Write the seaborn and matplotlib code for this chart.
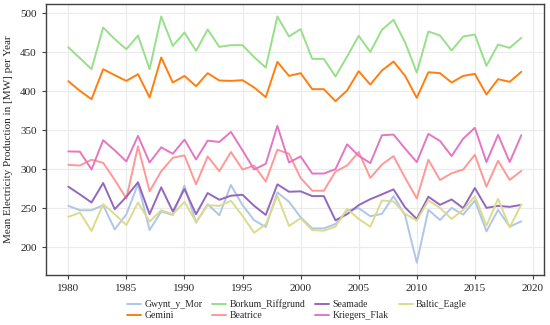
import numpy as np
import pandas as pd
import seaborn as sns
import matplotlib.pyplot as plt

# ---------------------------------------------------------------------------- #
#                                     Data                                     #
# ---------------------------------------------------------------------------- #
years = list(range(1980, 2020))

gwynt_y_mor = [253.0, 247.4, 247.4, 253.9, 222.8, 242.2, 281.0, 222.0, 245.7, 241.4,
               278.9, 231.5, 255.2, 241.0, 279.7, 253.9, 234.5, 225.9, 270.3, 258.2,
               238.4, 224.1, 224.1, 229.7, 247.0, 250.0, 239.7, 242.7, 265.5, 240.5,
               180.2, 247.8, 234.9, 250.4, 241.8, 259.9, 220.3, 247.8, 226.3, 233.2]
gemini = [412.8, 400.4, 389.7, 428.2, 420.5, 413.2, 421.8, 391.9, 443.2, 411.1,
          419.6, 406.4, 423.1, 413.7, 413.2, 414.1, 404.7, 392.3, 437.6, 419.6,
          423.1, 402.6, 402.6, 387.2, 400.8, 425.6, 408.5, 426.5, 438.0, 419.6,
          391.4, 424.3, 423.1, 411.1, 419.6, 422.2, 395.7, 415.4, 412.0, 424.8]
borkum_riffgrund = [456.4, 442.3, 428.2, 481.6, 466.7, 453.8, 471.4, 428.2, 495.7, 458.1,
                    475.2, 451.7, 479.1, 456.8, 459.0, 459.0, 443.6, 430.3, 495.7, 470.1,
                    479.5, 441.4, 441.4, 418.8, 444.4, 470.9, 450.4, 478.6, 491.5, 462.4,
                    423.9, 476.5, 471.4, 452.1, 470.1, 472.6, 432.5, 459.8, 455.5, 468.4]
beatrice = [305.6, 304.7, 312.1, 308.2, 286.2, 262.5, 329.3, 271.6, 297.4, 314.7,
            317.7, 280.6, 316.4, 297.4, 322.0, 299.6, 304.7, 284.1, 325.0, 319.8,
            288.8, 272.4, 272.4, 297.0, 304.7, 322.0, 288.8, 306.0, 316.8, 288.8,
            262.5, 312.1, 286.2, 294.8, 299.6, 318.5, 277.6, 310.8, 286.2, 297.8]
seamade = [277.6, 267.7, 257.3, 282.3, 248.7, 264.7, 283.2, 242.3, 276.7, 245.7,
           274.6, 242.3, 269.4, 260.8, 266.0, 267.2, 253.0, 241.4, 280.6, 271.1,
           271.6, 265.5, 265.5, 234.5, 242.3, 253.9, 261.6, 267.7, 274.1, 250.9,
           236.2, 264.7, 254.3, 261.2, 250.0, 275.9, 250.4, 253.0, 251.7, 254.3]
kriegers_flak = [322.8, 322.4, 299.6, 337.1, 324.1, 309.9, 342.7, 308.6, 328.0, 319.8,
                 337.9, 312.5, 336.6, 334.9, 347.8, 324.1, 299.6, 306.9, 355.6, 308.6,
                 316.4, 294.4, 294.4, 300.0, 331.9, 317.2, 307.8, 343.5, 344.4, 326.3,
                 309.1, 345.3, 336.2, 316.8, 339.2, 353.0, 309.1, 344.0, 309.1, 343.5]
baltic_eagle = [238.8, 244.4, 220.7, 255.2, 242.2, 228.4, 257.3, 232.8, 247.4, 242.2,
                258.2, 232.3, 253.9, 253.0, 259.5, 240.1, 218.5, 229.3, 265.9, 227.2,
                237.1, 222.0, 221.1, 226.3, 249.1, 236.2, 226.3, 259.9, 258.6, 242.7,
                234.1, 259.9, 250.4, 236.2, 247.8, 265.1, 227.6, 262.1, 225.4, 254.7]

farm_names = ["Gwynt_y_Mor", "Gemini", "Borkum_Riffgrund", "Beatrice",
              "Seamade", "Kriegers_Flak", "Baltic_Eagle"]
farm_values = [gwynt_y_mor, gemini, borkum_riffgrund, beatrice,
               seamade, kriegers_flak, baltic_eagle]
farm_colors = ["#aec7e8", "#ff7f0e", "#98df8a", "#ff9896",
               "#9467bd", "#e377c2", "#dbdb8d"]

# long format for seaborn
df = pd.concat([
    pd.DataFrame({"Year": years, "Production": vals, "Farm": name})
    for name, vals in zip(farm_names, farm_values)
], ignore_index=True)

# ---------------------------------------------------------------------------- #
#                                     Plot                                     #
# ---------------------------------------------------------------------------- #
sns.set_style("whitegrid", {"grid.color": "#ebebeb", "axes.edgecolor": "0.25"})
plt.rcParams['font.family'] = ['Liberation Serif', 'DejaVu Serif']

fig, ax = plt.subplots(figsize=(5.5, 3.25), dpi=100)
sns.lineplot(data=df, x="Year", y="Production", hue="Farm",
             hue_order=farm_names, palette=dict(zip(farm_names, farm_colors)),
             linewidth=1.4, ax=ax)

ax.set_xticks(np.arange(1980, 2021, 5))
ax.set_yticks(np.arange(200, 501, 50))
ax.tick_params(axis='both', labelsize=8, length=3, width=0.8, pad=3.5,
               color='0.25', labelcolor='0.15', bottom=True, left=True)
ax.set_xlabel("")
ax.set_ylabel("Mean Electricity Production in [MW] per Year", fontsize=8,
              color='0.15')
ax.yaxis.set_label_coords(-0.066, 0.5)
for s in ax.spines.values():
    s.set_linewidth(1.0)

ax.legend(loc='upper center', bbox_to_anchor=(0.54, 0.079),
          bbox_transform=fig.transFigure, ncol=4, frameon=False, fontsize=7,
          handlelength=1.45, handletextpad=0.35, columnspacing=1.0,
          labelspacing=0.25, borderaxespad=0, borderpad=0)

fig.subplots_adjust(left=0.083, right=0.989, top=0.987, bottom=0.154)
fig.savefig("out.png", dpi=100)
